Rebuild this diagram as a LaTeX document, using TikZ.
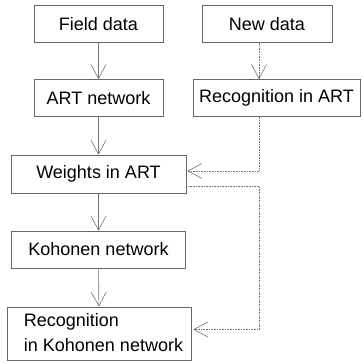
\documentclass[tikz,border=0pt]{standalone}
\usepackage{fontspec}
\setmainfont{Liberation Sans}
\usetikzlibrary{arrows.meta}
\definecolor{boxgray}{gray}{0.4}
\definecolor{linkgray}{gray}{0.45}
\tikzset{
  box/.style={draw=boxgray,line width=0.6pt,minimum height=37pt,inner sep=0pt,
    font=\fontsize{18}{25}\selectfont},
  flow/.style={draw=linkgray,line width=0.6pt,-{Straight Barb[length=14pt,width=15pt]}},
  flowdot/.style={flow,densely dotted}
}
\begin{document}
\begin{tikzpicture}[x=1pt,y=-1pt]
          \useasboundingbox (0,0) rectangle (363,363);
          % boxes
          \node[box,minimum width=129pt] (field) at (98.5,24) {Field data};
          \node[box,minimum width=130pt] (newdata) at (267,24) {New data};
          \node[box,minimum width=129pt] (artnet) at (98.5,98) {ART network};
          \node[box,minimum width=167pt] (recart) at (276.5,98) {Recognition in ART};
          \node[box,minimum width=175pt,minimum height=38pt] (weights) at (98.5,174) {Weights in ART};
          \node[box,minimum width=174pt] (kohonen) at (98.5,249.5) {Kohonen network};
          \node[box,inner xsep=4pt,minimum width=184pt,minimum height=53pt] (reckoh) at (99,333.5)
            {\hspace*{9pt}\begin{tabular}{@{}l@{}}Recognition\\in Kohonen network\end{tabular}};
          \coordinate (drop) at (259,0);
          % solid chain
          \draw[flow] (field) -- (artnet);
          \draw[flow] (artnet) -- (weights);
          \draw[flow] (weights) -- (kohonen);
          \draw[flow] (kohonen) -- (reckoh);
          % dotted links
          \draw[flowdot] (newdata.south -| drop) -- (recart.north -| drop);
          \draw[flowdot] (recart.south -| drop) |- ([xshift=1pt,yshift=3pt]weights.east);
          \draw[flowdot] ([yshift=-12pt]weights.east) -| ([yshift=4pt]reckoh.east -| drop)
            -- ([xshift=2pt,yshift=4pt]reckoh.east);
\end{tikzpicture}
\end{document}
